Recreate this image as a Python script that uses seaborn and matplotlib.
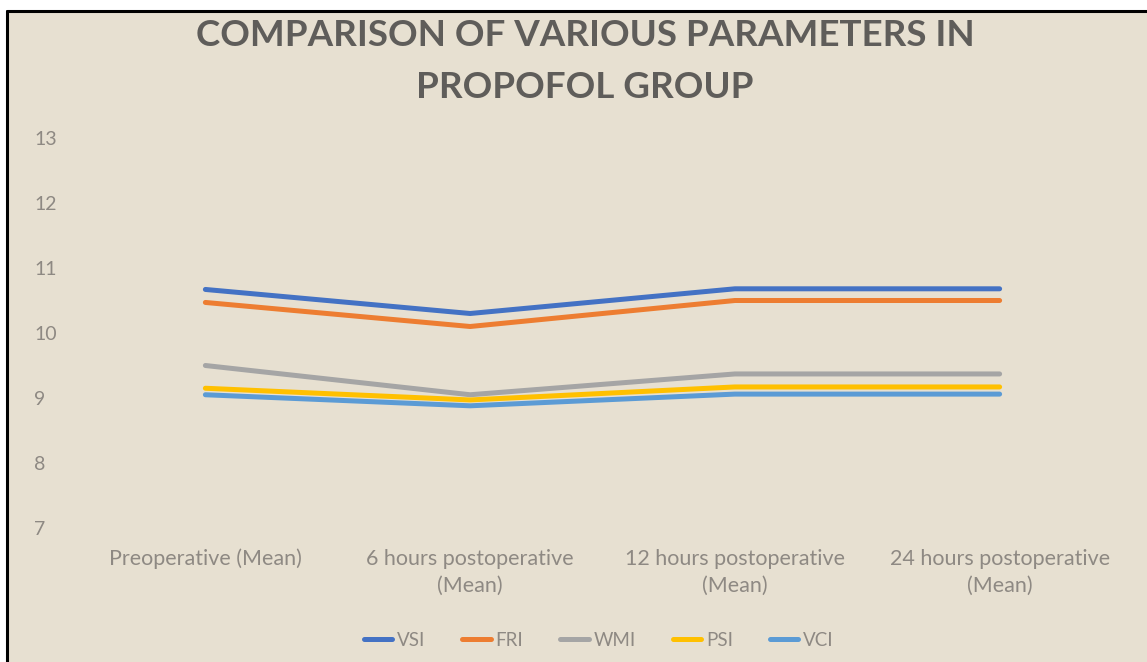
import pandas as pd
import matplotlib.pyplot as plt
import seaborn as sns
from matplotlib.lines import Line2D
from matplotlib.patches import Rectangle

# ---- data ----
time_points = ["Preoperative (Mean)", "6 hours postoperative (Mean)",
               "12 hours postoperative (Mean)", "24 hours postoperative (Mean)"]
tick_labels = ["Preoperative (Mean)", "6 hours postoperative\n(Mean)",
               "12 hours postoperative\n(Mean)", "24 hours postoperative\n(Mean)"]
series_names = ["VSI", "FRI", "WMI", "PSI", "VCI"]
vsi = [10.67, 10.30, 10.68, 10.68]
fri = [10.47, 10.10, 10.50, 10.50]
wmi = [9.50, 9.05, 9.37, 9.37]
psi = [9.15, 8.97, 9.17, 9.17]
vci = [9.05, 8.88, 9.06, 9.06]
y_ticks = [7, 8, 9, 10, 11, 12, 13]

colors = ["#4472C4", "#ED7D31", "#A5A5A5", "#FFC000", "#5B9BD5"]
bg = "#e7e0d1"
text_col = "#8e8983"

rows = []
for name, vals in zip(series_names, [vsi, fri, wmi, psi, vci]):
    for t, v in zip(time_points, vals):
        rows.append({"time": t, "value": v, "series": name})
df = pd.DataFrame(rows)

sns.set_style("white")
plt.rcParams["font.family"] = ["Lato", "DejaVu Sans"]

fig = plt.figure(figsize=(11.47, 6.62), dpi=100)
fig.patch.set_facecolor("white")
# beige panel with black frame on top / left like the source image
fig.add_artist(Rectangle((8 / 1147, 0), 1, 652 / 662, transform=fig.transFigure,
                         facecolor=bg, edgecolor="none", zorder=-10))
fig.add_artist(Line2D([7 / 1147, 1], [651 / 662, 651 / 662], transform=fig.transFigure,
                      color="black", lw=2.2))
fig.add_artist(Line2D([7.5 / 1147, 7.5 / 1147], [0, 651 / 662], transform=fig.transFigure,
                      color="black", lw=2.2))

ax = fig.add_axes([73 / 1147, 134 / 662, (1132 - 73) / 1147, (528 - 138) / 662])
ax.set_facecolor("none")

sns.lineplot(data=df, x="time", y="value", hue="series", hue_order=series_names,
             palette=colors, linewidth=3.6, sort=False, ax=ax, legend=False)

ax.set_xlim(-0.5, 3.5)
ax.set_ylim(7, 13)
ax.set_yticks(y_ticks)
ax.set_yticklabels([str(t) for t in y_ticks], fontsize=14, color=text_col, ha="left")
ax.set_xticks(range(len(tick_labels)))
ax.set_xticklabels(tick_labels, fontsize=15.5, color=text_col, linespacing=1.45, va="top")
ax.tick_params(axis="y", length=0, pad=28)
ax.tick_params(axis="x", length=0, pad=15)
ax.set_xlabel("")
ax.set_ylabel("")
for s in ax.spines.values():
    s.set_visible(False)

fig.text(0.51, 1 - 36 / 662, "COMPARISON OF VARIOUS PARAMETERS IN", ha="center", va="center",
         fontsize=26.5, fontweight="bold", color="#5f5d5a")
fig.text(0.51, 1 - 87 / 662, "PROPOFOL GROUP", ha="center", va="center",
         fontsize=26.5, fontweight="bold", color="#5f5d5a")

handles = [Line2D([0], [0], color=c, lw=3.6) for c in colors]
leg = fig.legend(handles, series_names, loc="center", bbox_to_anchor=(0.522, 1 - 640 / 662),
                 ncol=5, frameon=False, fontsize=13.5, handlelength=1.5,
                 columnspacing=2.0, handletextpad=0.25)
for t in leg.get_texts():
    t.set_color(text_col)

fig.savefig("out.png", dpi=100, facecolor=fig.get_facecolor())
